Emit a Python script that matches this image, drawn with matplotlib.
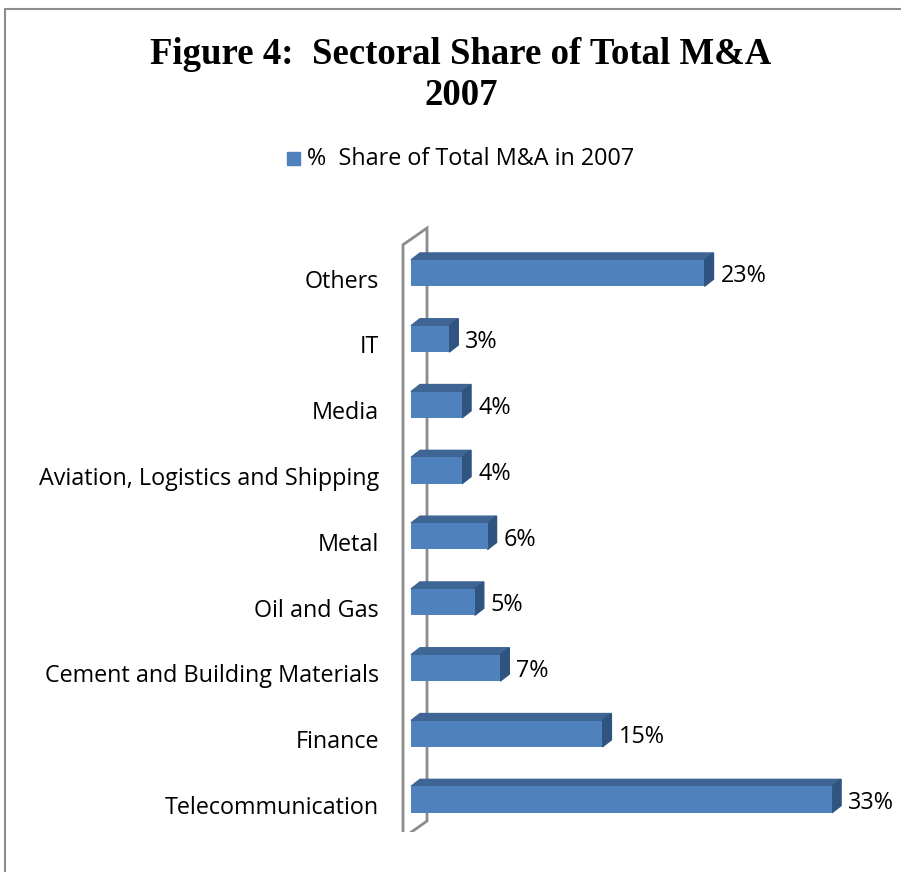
import numpy as np
import matplotlib
matplotlib.use('Agg')
import matplotlib.pyplot as plt
from matplotlib.patches import Polygon
from matplotlib.lines import Line2D

# data, bottom to top
sectors = ['Telecommunication', 'Finance', 'Cement and Building Materials',
           'Oil and Gas', 'Metal', 'Aviation, Logistics and Shipping',
           'Media', 'IT', 'Others']
share = [33, 15, 7, 5, 6, 4, 4, 3, 23]
value_labels = ['33%', '15%', '7%', '5%', '6%', '4%', '4%', '3%', '23%']

title = 'Figure 4:  Sectoral Share of Total M&A\n2007'
legend_label = '%  Share of Total M&A in 2007'

front_col = '#4F81BD'
top_col = '#3E6594'
side_col = '#2F5480'
wall_col = '#8C8C8C'
label_font = 'Open Sans'
label_size = 16.8

W, H = 901, 872
fig = plt.figure(figsize=(W / 100, H / 100), dpi=100)

# axes placed in pixels: 0% at x=411px, 12.76 px per %
ax_l, ax_r = 400, 880
ax_b, ax_t = 40, 652
px_per_x = 12.76
px_per_y = 65.8
y0_px = 72.5
ax = fig.add_axes([ax_l / W, ax_b / H, (ax_r - ax_l) / W, (ax_t - ax_b) / H])
ax.set_xlim((ax_l - 411) / px_per_x, (ax_r - 411) / px_per_x)
ax.set_ylim((ax_b - y0_px) / px_per_y, (ax_t - y0_px) / px_per_y)
ax.axis('off')

pos = np.arange(len(sectors))
bh = 0.40
dx = 9 / px_per_x
dy = 7 / px_per_y

# back wall
wx0, wx1 = -8 / px_per_x, 16 / px_per_x
wall = Polygon([(wx0, -0.585), (wx0, 8.43), (wx1, 8.43 + 0.255), (wx1, -0.585 + 0.258)],
               closed=True, fill=False, edgecolor=wall_col, lw=2, zorder=1)
ax.add_patch(wall)

ax.barh(pos, share, height=bh, color=front_col, zorder=3)
for p, v, lab in zip(pos, share, value_labels):
    top = Polygon([(0, p + bh / 2), (v, p + bh / 2), (v + dx, p + bh / 2 + dy),
                   (dx, p + bh / 2 + dy)], closed=True, color=top_col, zorder=2)
    side = Polygon([(v, p - bh / 2), (v, p + bh / 2), (v + dx, p + bh / 2 + dy),
                    (v + dx, p - bh / 2 + dy)], closed=True, color=side_col, zorder=2)
    ax.add_patch(top)
    ax.add_patch(side)
    ax.text(v + dx + 7 / px_per_x, p - 0.05, lab, ha='left', va='center',
            fontsize=label_size, family=label_font)

for p, s in zip(pos, sectors):
    ax.text(-32 / px_per_x, p - 0.13, s, ha='right', va='center',
            fontsize=label_size, family=label_font)

# title and legend
fig.text(461 / W, 1 - 75 / H, title, ha='center', va='center', fontsize=26.5,
         fontweight='bold', family='Liberation Serif', linespacing=1.2)
fig.patches.append(Polygon([(287, H - 152), (300, H - 152), (300, H - 165), (287, H - 165)],
                           closed=True, color=front_col, transform=None, figure=fig))
fig.text(307 / W, 1 - 159 / H, legend_label, ha='left', va='center',
         fontsize=label_size, family=label_font)

# chart frame
fig.add_artist(Line2D([5 / W, 5 / W, 1], [0, 1 - 9 / H, 1 - 9 / H],
                      transform=fig.transFigure, color='#8C8C8C', lw=1.5))

fig.savefig('out.png', dpi=100)
